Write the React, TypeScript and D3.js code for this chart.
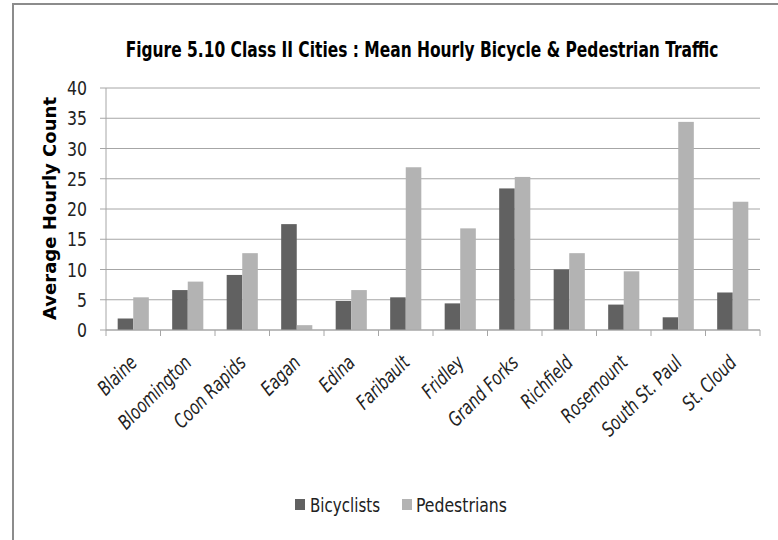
import { useMemo } from 'react';
import * as d3 from 'd3';

// Values
const cities = [
	'Blaine',
	'Bloomington',
	'Coon Rapids',
	'Eagan',
	'Edina',
	'Faribault',
	'Fridley',
	'Grand Forks',
	'Richfield',
	'Rosemount',
	'South St. Paul',
	'St. Cloud',
];
const bicyclists = [1.9, 6.6, 9.1, 17.5, 4.8, 5.4, 4.4, 23.4, 10.0, 4.2, 2.1, 6.2];
const pedestrians = [5.4, 8.0, 12.7, 0.8, 6.6, 26.9, 16.8, 25.3, 12.7, 9.7, 34.4, 21.2];
const yTicks = [0, 5, 10, 15, 20, 25, 30, 35, 40];
const seriesNames = ['Bicyclists', 'Pedestrians'];
const seriesColors = ['#616161', '#b3b3b3'];

const W = 778;
const H = 540;
const NARROW = '"DejaVu Sans Condensed", "Liberation Sans Narrow", "Open Sans", sans-serif';
const WIDE = '"DejaVu Sans", Verdana, sans-serif';

export default function App() {
	// plot area in pixels
	const left = 106;
	const right = 760;
	const top = 88;
	const bottom = 330;

	const x = useMemo(
		() => d3.scaleBand<string>().domain(cities).range([left, right]).paddingInner(0).paddingOuter(0),
		[]
	);
	const y = useMemo(() => d3.scaleLinear().domain([0, 40]).range([bottom, top]), []);

	// Excel-like gap width of 150%: two bars + gap fill one category
	const barW = x.bandwidth() / (2 + 1.5);
	const groupOffset = (x.bandwidth() - 2 * barW) / 2;

	const series = [bicyclists, pedestrians];

	// legend layout: square, label, gap
	const legendItems = [
		{ sx: 295, tx: 310, len: 70 },
		{ sx: 402, tx: 416, len: 91 },
	];

	return (
		<svg
			width={W}
			height={H}
			style={{ position: 'absolute', left: 0, top: 0, background: '#fff' }}
			fontFamily={NARROW}
		>
			{/* chart frame (only top and left edges show in the crop) */}
			<line x1={12} x2={W} y1={4} y2={4} stroke="#8c8c8c" strokeWidth={2} />
			<line x1={13} x2={13} y1={3} y2={H} stroke="#8c8c8c" strokeWidth={2} />

			{/* the original font is tall and narrow, so stretch vertically */}
			<text
				transform="translate(422, 57) scale(1, 1.22)"
				textAnchor="middle"
				fontSize={17.2}
				fontWeight="bold"
				fill="#000"
			>
				Figure 5.10 Class II Cities : Mean Hourly Bicycle &amp; Pedestrian Traffic
			</text>

			{/* horizontal gridlines + y tick labels */}
			{yTicks.map((t) => (
				<g key={t}>
					<line x1={left - 6} x2={right} y1={y(t)} y2={y(t)} stroke="#a6a6a6" strokeWidth={1} />
					<text
						x={left - 19}
						y={y(t)}
						dy="0.36em"
						textAnchor="end"
						fontSize={20}
						fill="#222"
						textLength={String(t).length * 10}
						lengthAdjust="spacingAndGlyphs"
					>
						{t}
					</text>
				</g>
			))}

			<text
				transform={`translate(50, ${(97 + 320) / 2}) rotate(-90)`}
				textAnchor="middle"
				dy="0.35em"
				fontSize={17}
				fontWeight="bold"
				fontFamily={WIDE}
				fill="#000"
				textLength={223}
				lengthAdjust="spacingAndGlyphs"
			>
				Average Hourly Count
			</text>

			{/* bars */}
			{cities.map((c, i) => (
				<g key={c}>
					{series.map((vals, s) => (
						<rect
							key={s}
							x={(x(c) ?? 0) + groupOffset + s * barW}
							y={y(vals[i])}
							width={barW}
							height={bottom - y(vals[i])}
							fill={seriesColors[s]}
						/>
					))}
				</g>
			))}

			{/* axes lines */}
			<line x1={left} x2={left} y1={top} y2={bottom} stroke="#a6a6a6" />
			<line x1={left} x2={right} y1={bottom} y2={bottom} stroke="#a6a6a6" />
			{[...cities.map((c) => x(c) ?? 0), right].map((px, i) => (
				<line key={i} x1={px} x2={px} y1={bottom} y2={bottom + 6} stroke="#a6a6a6" />
			))}

			{/* rotated category labels */}
			{cities.map((c) => (
				<text
					key={c}
					transform={`translate(${(x(c) ?? 0) + x.bandwidth() / 2 + 5}, ${bottom + 34}) rotate(-45) scale(1, 1.2)`}
					textAnchor="end"
					fontSize={16.5}
					fontStyle="italic"
					fill="#222"
				>
					{c}
				</text>
			))}

			{/* legend */}
			{seriesNames.map((name, i) => {
				const it = legendItems[i];
				return (
					<g key={name}>
						<rect x={it.sx} y={499} width={10} height={11} fill={seriesColors[i]} />
						<text
							x={it.tx}
							y={512}
							fontSize={20}
							fill="#222"
							textLength={it.len}
							lengthAdjust="spacingAndGlyphs"
						>
							{name}
						</text>
					</g>
				);
			})}
		</svg>
	);
}
